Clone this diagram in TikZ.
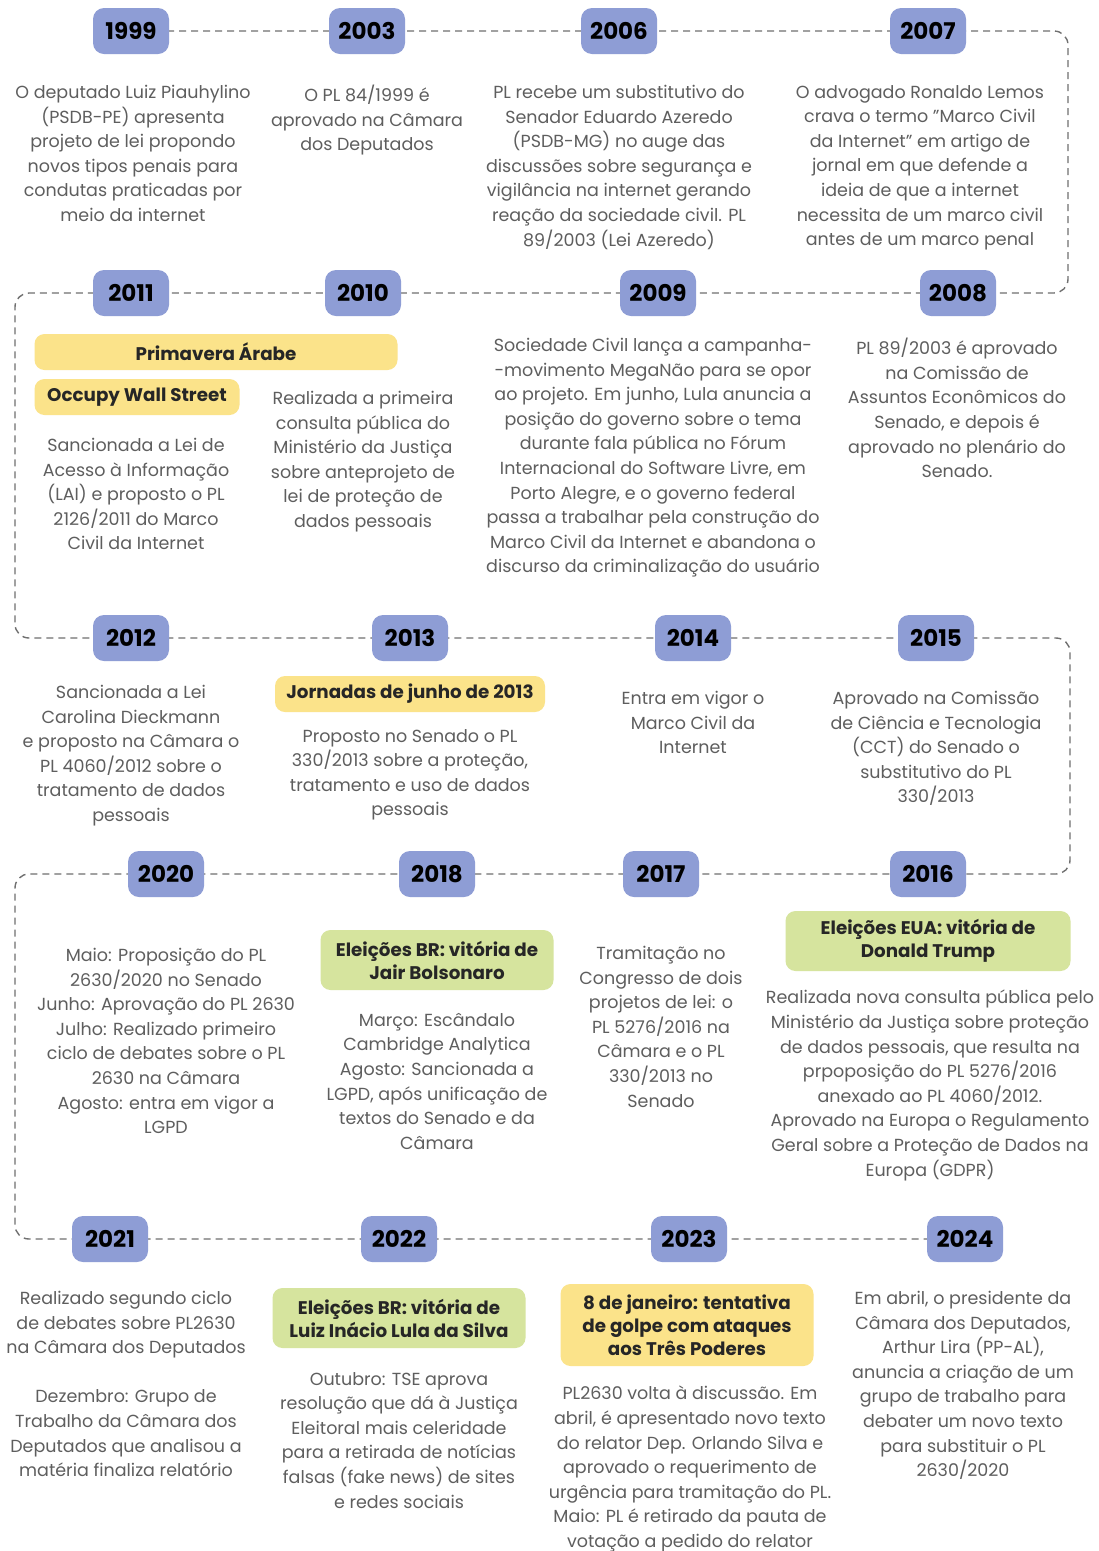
\documentclass[tikz,border=0pt]{standalone}
\usepackage{fontspec}
\setmainfont{Poppins}
\definecolor{yearblue}{HTML}{8E9DD5}
\definecolor{evyellow}{HTML}{FBE38A}
\definecolor{evgreen}{HTML}{D6E49E}
\definecolor{txtgrey}{HTML}{5E5E5E}
\definecolor{dashgrey}{HTML}{707070}
\pgfdeclarelayer{back}
\pgfdeclarelayer{mid}
\pgfsetlayers{back,mid,main}
\newcommand{\bodyfont}{\fontsize{17.5}{24.6}\selectfont}
\newcommand{\yrfont}{\fontsize{23}{26}\selectfont\bfseries}
\newcommand{\evfont}{\fontsize{18.3}{23}\selectfont\bfseries}
\newcommand{\sq}{{\char34}}
\tikzset{
  yearbox/.style={rounded corners=11pt, fill=yearblue, minimum width=76, minimum height=46, inner sep=0, font=\yrfont, text=black},
  txt/.style={align=center, text=txtgrey, font=\bodyfont, inner sep=0, anchor=north},
  evy/.style={rounded corners=10pt, fill=evyellow, inner sep=0, align=center, font=\evfont, text=black!85},
  evg/.style={rounded corners=10pt, fill=evgreen, inner sep=0, align=center, font=\evfont, text=black!85},
  dashline/.style={draw=dashgrey, line width=1.4pt, dash pattern=on 7pt off 5pt, rounded corners=14pt}
}
\begin{document}
\begin{tikzpicture}[x=1pt,y=-1pt]
\begin{pgfonlayer}{back}
\fill[white] (0,0) rectangle (1099,1551);
\end{pgfonlayer}
\useasboundingbox (0,0) rectangle (1099,1551);

% year boxes
\node[yearbox] (y1999) at (131,31) {1999};
\node[yearbox] (y2003) at (367,31) {2003};
\node[yearbox] (y2006) at (619,31) {2006};
\node[yearbox] (y2007) at (928,31) {2007};
\node[yearbox] (y2011) at (131,293) {2011};
\node[yearbox] (y2010) at (363,293) {2010};
\node[yearbox] (y2009) at (658,293) {2009};
\node[yearbox] (y2008) at (958,293) {2008};
\node[yearbox] (y2012) at (131,638) {2012};
\node[yearbox] (y2013) at (410,638) {2013};
\node[yearbox] (y2014) at (693,638) {2014};
\node[yearbox] (y2015) at (936,638) {2015};
\node[yearbox] (y2020) at (166,874) {2020};
\node[yearbox] (y2018) at (437,874) {2018};
\node[yearbox] (y2017) at (661,874) {2017};
\node[yearbox] (y2016) at (928,874) {2016};
\node[yearbox] (y2021) at (110,1239) {2021};
\node[yearbox] (y2022) at (399,1239) {2022};
\node[yearbox] (y2023) at (689,1239) {2023};
\node[yearbox] (y2024) at (965,1239) {2024};

\coordinate (c1) at (1068,31);
\coordinate (c2) at (1068,293);
\coordinate (c3) at (15,293);
\coordinate (c4) at (15,638);
\coordinate (c5) at (1070,638);
\coordinate (c6) at (1070,874);
\coordinate (c7) at (15,874);
\coordinate (c8) at (15,1239);

\begin{pgfonlayer}{mid}
\draw[dashline] (y1999.center) -- (y2003.center) -- (y2006.center) -- (y2007.center) -- (c1) -- (c2)
  -- (y2008.center) -- (y2009.center) -- (y2010.center) -- (y2011.center) -- (c3) -- (c4)
  -- (y2012.center) -- (y2013.center) -- (y2014.center) -- (y2015.center) -- (c5) -- (c6)
  -- (y2016.center) -- (y2017.center) -- (y2018.center) -- (y2020.center) -- (c7) -- (c8)
  -- (y2021.center) -- (y2022.center) -- (y2023.center) -- (y2024.center);
\end{pgfonlayer}

% row 1
\node[txt] (t1999) at (133,85) {O deputado Luiz Piauhylino\\(PSDB-PE) apresenta\\projeto de lei propondo\\novos tipos penais para\\condutas praticadas por\\meio da internet};
\node[txt] (t2003) at (367,85) {O PL 84/1999 é\\aprovado na Câmara\\dos Deputados};
\node[txt] (t2006) at (619,85) {PL recebe um substitutivo do\\Senador Eduardo Azeredo\\(PSDB-MG) no auge das\\discussões sobre segurança e\\vigilância na internet gerando\\reação da sociedade civil. PL\\89/2003 (Lei Azeredo)};
\node[txt] (t2007) at (920,85) {O advogado Ronaldo Lemos\\crava o termo \sq Marco Civil\\da Internet\sq{} em artigo de\\jornal em que defende a\\ideia de que a internet\\necessita de um marco civil\\antes de um marco penal};

% row 2
\node[evy, minimum width=363, minimum height=36] (ePrim) at (216,352) {Primavera Árabe};
\node[evy, minimum width=205, minimum height=36] (eOccu) at (137,397) {Occupy Wall Street};
\node[txt] (t2011) at (136,438) {Sancionada a Lei de\\Acesso à Informação\\(LAI) e proposto o PL\\2126/2011 do Marco\\Civil da Internet};
\node[txt] (t2010) at (363,391) {Realizada a primeira\\consulta pública do\\Ministério da Justiça\\sobre anteprojeto de\\lei de proteção de\\dados pessoais};
\node[txt] (t2009) at (653,338) {Sociedade Civil lança a campanha-\\-movimento MegaNão para se opor\\ao projeto. Em junho, Lula anuncia a\\posição do governo sobre o tema\\durante fala pública no Fórum\\Internacional do Software Livre, em\\Porto Alegre, e o governo federal\\passa a trabalhar pela construção do\\Marco Civil da Internet e abandona o\\discurso da criminalização do usuário};
\node[txt] (t2008) at (957,338) {PL 89/2003 é aprovado\\na Comissão de\\Assuntos Econômicos do\\Senado, e depois é\\aprovado no plenário do\\Senado.};

% row 3
\node[txt] (t2012) at (131,685) {Sancionada a Lei\\Carolina Dieckmann\\e proposto na Câmara o\\PL 4060/2012 sobre o\\tratamento de dados\\pessoais};
\node[evy, minimum width=270, minimum height=36] (eJorn) at (410,694) {Jornadas de junho de 2013};
\node[txt] (t2013) at (410,729) {Proposto no Senado o PL\\330/2013 sobre a proteção,\\tratamento e uso de dados\\pessoais};
\node[txt] (t2014) at (693,691) {Entra em vigor o\\Marco Civil da\\Internet};
\node[txt] (t2015) at (936,691) {Aprovado na Comissão\\de Ciência e Tecnologia\\(CCT) do Senado o\\substitutivo do PL\\330/2013};

% row 4
\node[txt] (t2020) at (166,948) {Maio: Proposição do PL\\2630/2020 no Senado\\Junho: Aprovação do PL 2630\\Julho: Realizado primeiro\\ciclo de debates sobre o PL\\2630 na Câmara\\Agosto: entra em vigor a\\LGPD};
\node[evg, minimum width=233, minimum height=60] (eBol) at (437,960) {Eleições BR: vitória de\\Jair Bolsonaro};
\node[txt] (t2018) at (437,1013) {Março: Escândalo\\Cambridge Analytica\\Agosto: Sancionada a\\LGPD, após unificação de\\textos do Senado e da\\Câmara};
\node[txt] (t2017) at (661,946) {Tramitação no\\Congresso de dois\\projetos de lei: o\\PL 5276/2016 na\\Câmara e o PL\\330/2013 no\\Senado};
\node[evg, minimum width=285, minimum height=60] (eTru) at (928,941) {Eleições EUA: vitória de\\Donald Trump};
\node[txt] (t2016) at (930,990) {Realizada nova consulta pública pelo\\Ministério da Justiça sobre proteção\\de dados pessoais, que resulta na\\prpoposição do PL 5276/2016\\anexado ao PL 4060/2012.\\Aprovado na Europa o Regulamento\\Geral sobre a Proteção de Dados na\\Europa (GDPR)};

% row 5
\node[txt] (t2021) at (126,1291) {Realizado segundo ciclo\\de debates sobre PL2630\\na Câmara dos Deputados\\[24.6pt]Dezembro: Grupo de\\Trabalho da Câmara dos\\Deputados que analisou a\\matéria finaliza relatório};
\node[evg, minimum width=253, minimum height=60] (eLula) at (399,1318) {Eleições BR: vitória de\\Luiz Inácio Lula da Silva};
\node[txt] (t2022) at (399,1372) {Outubro: TSE aprova\\resolução que dá à Justiça\\Eleitoral mais celeridade\\para a retirada de notícias\\falsas (fake news) de sites\\e redes sociais};
\node[evy, minimum width=253, minimum height=82] (eJan) at (687,1325) {8 de janeiro: tentativa\\de golpe com ataques\\aos Três Poderes};
\node[txt] (t2023) at (690,1386) {PL2630 volta à discussão. Em\\abril, é apresentado novo texto\\do relator Dep. Orlando Silva e\\aprovado o requerimento de\\urgência para tramitação do PL.\\Maio: PL é retirado da pauta de\\votação a pedido do relator};
\node[txt] (t2024) at (963,1291) {Em abril, o presidente da\\Câmara dos Deputados,\\Arthur Lira (PP-AL),\\anuncia a criação de um\\grupo de trabalho para\\debater um novo texto\\para substituir o PL\\2630/2020};
\end{tikzpicture}
\end{document}
